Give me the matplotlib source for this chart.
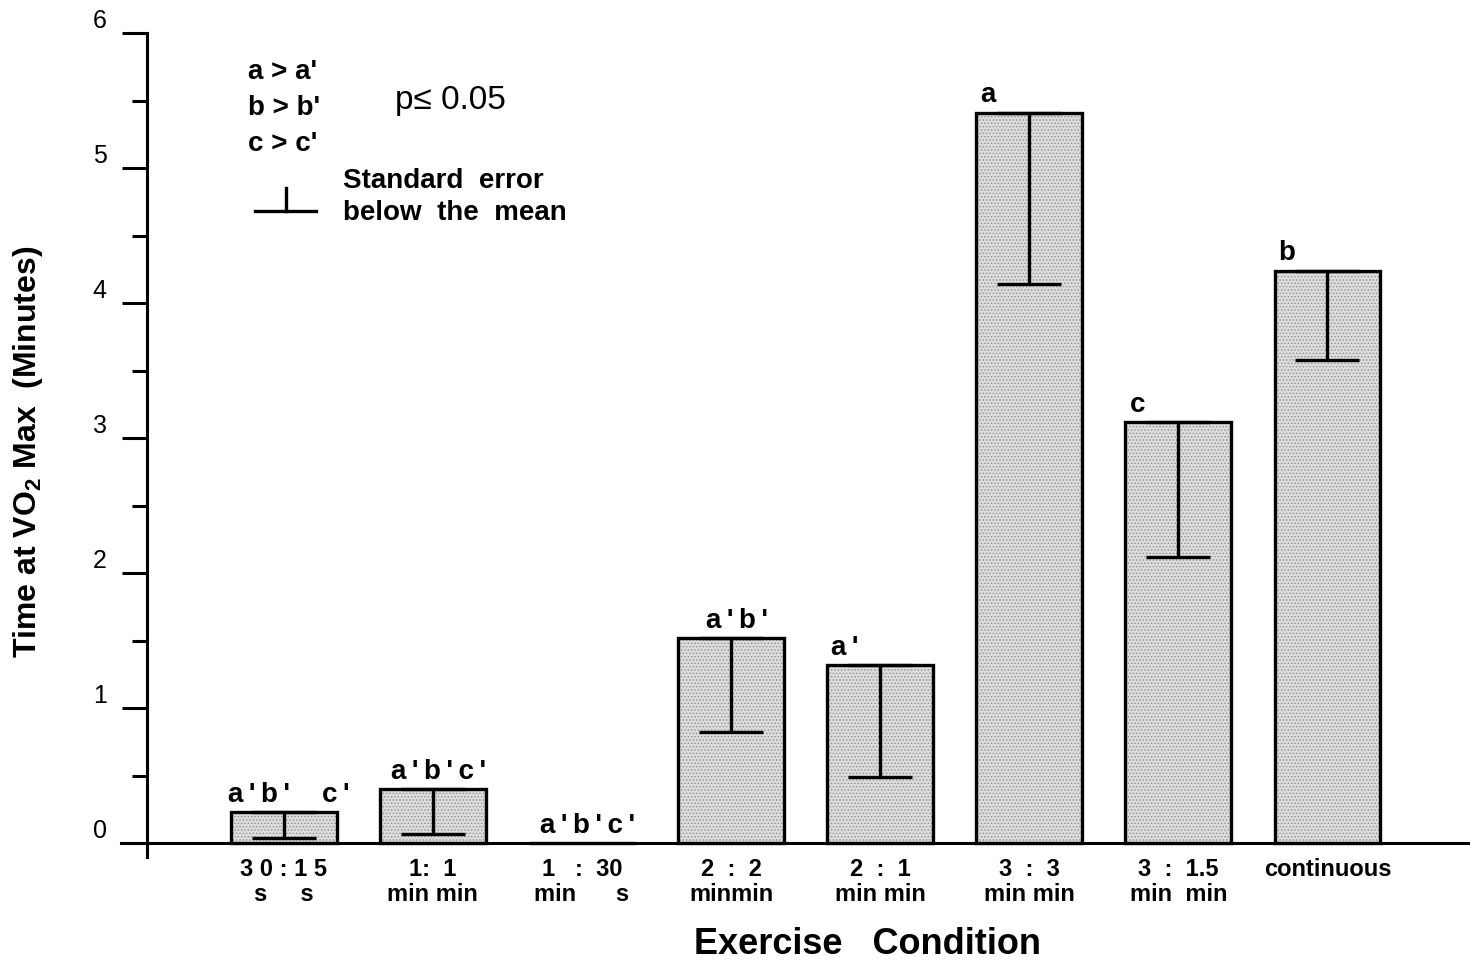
import matplotlib
matplotlib.use('Agg')
import matplotlib.pyplot as plt
from matplotlib.ticker import MultipleLocator
from matplotlib.lines import Line2D

plt.rcParams['font.family'] = ['Liberation Sans', 'DejaVu Sans']
plt.rcParams['mathtext.fontset'] = 'custom'
plt.rcParams['mathtext.rm'] = 'Liberation Sans:bold'
plt.rcParams['mathtext.it'] = 'Liberation Sans:bold'
plt.rcParams['mathtext.bf'] = 'Liberation Sans:bold'
plt.rcParams['hatch.linewidth'] = 0.6

# ---- data ----
conditions = ["3 0 : 1 5\ns     s", "1:  1\nmin min", "1   :  30\nmin      s",
              "2  :  2\nminmin", "2  :  1\nmin min", "3  :  3\nmin min",
              "3  :  1.5\nmin  min", "continuous"]
means = [0.23, 0.40, 0.0, 1.52, 1.32, 5.41, 3.12, 4.24]
se_below = [0.19, 0.33, 0.0, 0.70, 0.83, 1.27, 1.00, 0.66]
sig_labels = ["a'b'  c'", "a'b'c'", "a'b'c'", "a'b'", "a'", "a", "c", "b"]
legend_lines = ["a > a'", "b > b'", "c > c'"]
y_ticks = [0, 1, 2, 3, 4, 5, 6]

THIN = '\u2009'

fig = plt.figure(figsize=(14.7, 9.65), dpi=100)
ax = fig.add_axes([0.1, 0.1124, 0.9, 0.8534])

x = list(range(len(means)))
bw = 0.71
# stippled fill
ax.bar(x, means, width=bw, color='#dcdcdc', edgecolor='#8f8f8f', hatch='.....',
       linewidth=0, zorder=1)
# outlines
ax.bar(x, means, width=bw, fill=False, edgecolor='black', linewidth=2.4, zorder=2)

# error bars (below the mean only)
xe = [xi for xi, s in zip(x, se_below) if s > 0]
me = [m for m, s in zip(means, se_below) if s > 0]
se = [s for s in se_below if s > 0]
ax.errorbar(xe, me, yerr=[se, [0] * len(se)], fmt='none', ecolor='black',
            elinewidth=2.4, capsize=23, capthick=2.4, zorder=3)

# significance letters
for xi, m, lab in zip(x, means, sig_labels):
    txt = THIN.join(lab)
    if len(lab) <= 2:
        ax.annotate(txt, (xi - bw / 2, m), xytext=(3, 3), textcoords='offset points',
                    ha='left', va='bottom', fontsize=20, fontweight='bold')
    else:
        ax.annotate(txt, (xi, m), xytext=(4, 3), textcoords='offset points',
                    ha='center', va='bottom', fontsize=20, fontweight='bold')

# axes styling
ax.set_xlim(-0.917, 7.956)
ax.set_ylim(-0.1, 6)
ax.spines['top'].set_visible(False)
ax.spines['right'].set_visible(False)
ax.spines['bottom'].set_position(('data', 0))
ax.spines['left'].set_linewidth(2.2)
ax.spines['bottom'].set_linewidth(2.2)
ax.set_yticks(y_ticks)
ax.set_yticklabels([str(t) for t in y_ticks], fontsize=18)
ax.yaxis.set_minor_locator(MultipleLocator(0.5))
ax.tick_params(axis='y', which='major', direction='out', length=18, width=2.2, pad=11)
ax.tick_params(axis='y', which='minor', direction='out', length=11, width=2.2)
for lab in ax.get_yticklabels():
    lab.set_verticalalignment('bottom')
ax.set_xticks(x)
ax.set_xticklabels(conditions, fontsize=17, fontweight='bold', linespacing=1.1)
ax.tick_params(axis='x', length=0, pad=11)

# small stub of the x axis left of the y axis
ax.add_line(Line2D([-0.02, 0], [0, 0], transform=ax.get_yaxis_transform(),
                   color='black', lw=2.2, clip_on=False))

# axis labels
fig.text(868 / 1470, 1 - 945 / 965, "Exercise   Condition", ha='center', va='center',
         fontsize=26, fontweight='bold')
fig.text(28 / 1470, 1 - 452 / 965, "Time at VO$_{2}$ Max  (Minutes)", rotation=90,
         ha='center', va='center', fontsize=23, fontweight='bold')

# key
for i, t in enumerate(legend_lines):
    fig.text(248 / 1470, 1 - (72 + 36 * i) / 965, t, ha='left', va='center',
             fontsize=20, fontweight='bold')
fig.text(395 / 1470, 1 - 100 / 965, "p\u2264 0.05", ha='left', va='center', fontsize=24)
fig.text(343 / 1470, 1 - 181 / 965, "Standard  error", ha='left', va='center',
         fontsize=20, fontweight='bold')
fig.text(343 / 1470, 1 - 213 / 965, "below  the  mean", ha='left', va='center',
         fontsize=20, fontweight='bold')
fig.add_artist(Line2D([255 / 1470, 316 / 1470], [1 - 211 / 965, 1 - 211 / 965],
                      color='black', lw=2.4))
fig.add_artist(Line2D([286 / 1470, 286 / 1470], [1 - 188 / 965, 1 - 211 / 965],
                      color='black', lw=2.4))

fig.savefig('out.png', dpi=100)
